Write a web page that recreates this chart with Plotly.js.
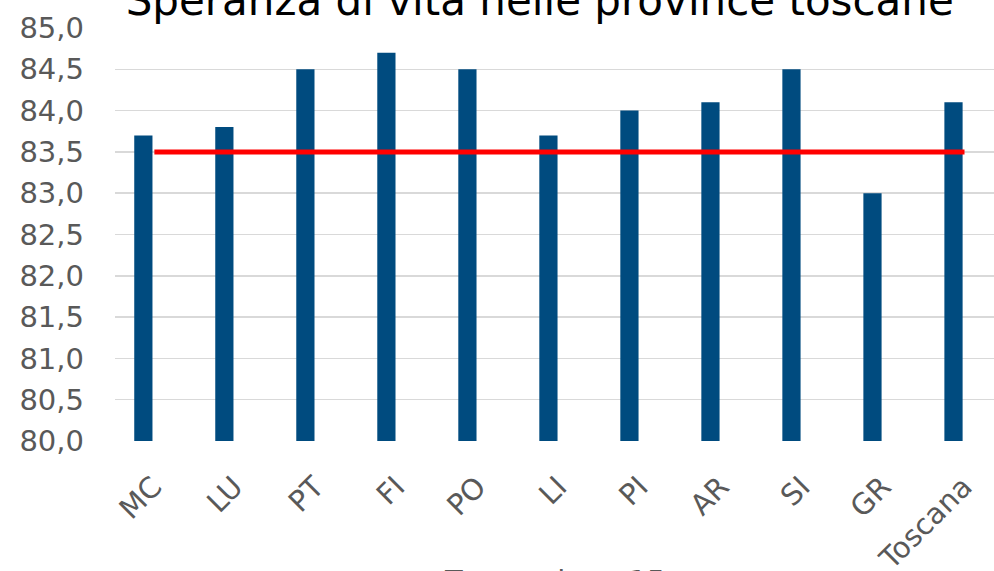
<!DOCTYPE html>
<html>
<head>
<meta charset="utf-8">
<script src="https://cdn.plot.ly/plotly-3.0.1.min.js"></script>
<style>html,body{margin:0;padding:0;background:#fff;}#chart{width:994px;height:571px;}</style>
</head>
<body>
<div id="chart"></div>
<script>
const provinces = ["MC","LU","PT","FI","PO","LI","PI","AR","SI","GR","Toscana"];
const lifeExpectancy = [83.7, 83.8, 84.5, 84.7, 84.5, 83.7, 84.0, 84.1, 84.5, 83.0, 84.1];
const referenceLine = [83.5, 83.5, 83.5, 83.5, 83.5, 83.5, 83.5, 83.5, 83.5, 83.5, 83.5];
const chartTitle = "Speranza di vita nelle province toscane";
const xTitle = "Tav. sezione 15";

const tickFont = {family: "DejaVu Sans", size: 29, color: "#595959"};

const data = [
  {type: "bar", x: provinces, y: lifeExpectancy, width: 0.225,
   marker: {color: "#004b7f"}, hoverinfo: "skip"},
  {type: "scatter", mode: "lines", x: provinces, y: referenceLine, xaxis: "x2",
   line: {color: "#ff0000", width: 5}, hoverinfo: "skip"}
];

const layout = {
  width: 994, height: 571,
  margin: {l: 115, r: 0, t: 28, b: 130, pad: 0},
  paper_bgcolor: "#fff", plot_bgcolor: "#fff",
  showlegend: false,
  separators: ",.",
  title: {text: chartTitle, font: {family: "DejaVu Sans", size: 42, color: "#000"},
          x: 0.543, xanchor: "center", xref: "container", y: 1, yref: "container", yanchor: "middle"},
  xaxis: {type: "category", range: [-0.35, 10.5], tickangle: -45, tickfont: tickFont,
          showgrid: false, zeroline: false, showline: false, ticks: "",
          ticklabelstandoff: 22, ticklabelshift: 10},
  xaxis2: {type: "category", overlaying: "x", range: [-0.486, 10.364], visible: false},
  yaxis: {range: [80, 85], dtick: 0.5, tick0: 80, tickformat: ".1f", tickfont: tickFont,
          showgrid: true, gridcolor: "#d9d9d9", gridwidth: 1.5, zeroline: false,
          showline: false, ticks: "", ticklabelstandoff: 30},
  annotations: [{text: xTitle, xref: "paper", yref: "paper", x: 0.5, y: -0.338,
                 xanchor: "center", yanchor: "middle", showarrow: false,
                 font: {family: "DejaVu Sans", size: 29, color: "#595959"}}]
};

Plotly.newPlot("chart", data, layout, {displayModeBar: false, staticPlot: true});
</script>
</body>
</html>
